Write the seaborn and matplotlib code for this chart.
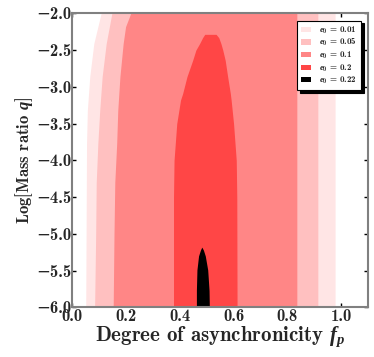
import numpy as np
import matplotlib
matplotlib.use("Agg")
import matplotlib.pyplot as plt
from matplotlib.ticker import MultipleLocator
import seaborn as sns

# boundaries of each e0 region (log q vs f_p)
y_001 = [-6.0, -4.5, -3.77, -3.32, -2.86, -2.41, -2.0]
left_001 = [0.051, 0.053, 0.054, 0.057, 0.066, 0.081, 0.108]
right_001 = [0.977] * len(y_001)

y_005 = [-6.0, -5.0, -4.3, -3.77, -3.32, -2.86, -2.41, -2.0]
left_005 = [0.084, 0.088, 0.090, 0.096, 0.103, 0.112, 0.127, 0.148]
right_005 = [0.913] * len(y_005)

y_01 = [-6.0, -5.0, -4.3, -3.77, -3.32, -2.86, -2.41, -2.18, -2.0]
left_01 = [0.153, 0.156, 0.159, 0.166, 0.170, 0.178, 0.190, 0.199, 0.218]
right_01 = [0.835] * len(y_01)

y_02 = [-6.0, -4.5, -4.0, -3.5, -3.18, -3.09, -2.86, -2.64, -2.5, -2.41, -2.33, -2.285]
left_02 = [0.377, 0.377, 0.379, 0.389, 0.403, 0.411, 0.427, 0.448, 0.460, 0.474, 0.485, 0.493]
right_02 = [0.613, 0.612, 0.610, 0.600, 0.591, 0.588, 0.578, 0.569, 0.560, 0.553, 0.545, 0.535]

y_022 = [-6.0, -5.77, -5.49, -5.3, -5.22, -5.18]
left_022 = [0.462, 0.462, 0.464, 0.470, 0.477, 0.482]
right_022 = [0.510, 0.509, 0.504, 0.495, 0.488, 0.482]

labels = [r"$e_0$ = 0.01", r"$e_0$ = 0.05", r"$e_0$ = 0.1", r"$e_0$ = 0.2", r"$e_0$ = 0.22"]
colors = ["#ffe5e5", "#ffc0c0", "#ff8686", "#ff4646", "#000000"]


def main():
    sns.set_theme(style="ticks")
    plt.rcParams.update({
        "font.family": ["cmb10", "DejaVu Serif"],
        "mathtext.fontset": "custom",
        "mathtext.rm": "cmb10",
        "mathtext.bf": "cmb10",
        "mathtext.it": "Liberation Serif:italic:bold",
        "mathtext.fallback": "cm",
        "axes.formatter.use_mathtext": False,
        "axes.unicode_minus": True,
    })

    fig = plt.figure(figsize=(3.74, 3.57), dpi=100)
    ax = fig.add_axes([0.1925, 0.139, 0.792, 0.8235])

    regions = [
        (y_001, left_001, right_001),
        (y_005, left_005, right_005),
        (y_01, left_01, right_01),
        (y_02, left_02, right_02),
        (y_022, left_022, right_022),
    ]
    for (yy, lo, hi), c, lab in zip(regions, colors, labels):
        ax.fill_betweenx(yy, lo, hi, color=c, linewidth=0, label=lab)

    ax.set_xlim(0, 1.1)
    ax.set_ylim(-6, -2)
    ax.xaxis.set_major_locator(MultipleLocator(0.2))
    ax.yaxis.set_major_locator(MultipleLocator(0.5))
    ax.tick_params(direction="in", top=True, right=True, length=3, width=1,
                   color="black", labelsize=12, pad=1.5)
    ax.tick_params(axis="y", pad=0.5)
    for sp in ax.spines.values():
        sp.set_color("#808080")
        sp.set_linewidth(1.5)

    ax.set_xlabel(r"Degree of asynchronicity $f_p$", fontsize=15, labelpad=0)
    ax.set_ylabel(r"Log[Mass ratio $q$]", fontsize=12, labelpad=1)

    leg = ax.legend(loc="upper right", fontsize=6.5, frameon=True, fancybox=False,
                    shadow={"color": "black", "alpha": 1.0},
                    edgecolor="black", framealpha=1, handlelength=1.1,
                    handleheight=0.5, handletextpad=0.9, borderpad=0.45,
                    borderaxespad=0.8, labelspacing=0.15)
    leg.get_frame().set_linewidth(0.8)

    fig.savefig("out.png", dpi=100)


if __name__ == "__main__":
    main()
